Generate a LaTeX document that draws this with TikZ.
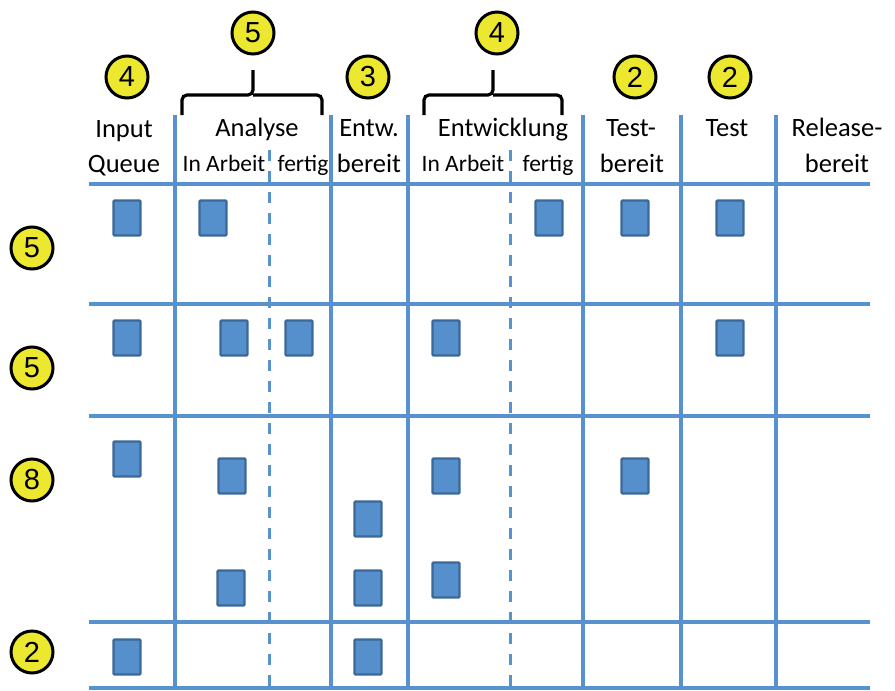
\documentclass[tikz,border=0pt]{standalone}
\usepackage{fontspec}
\setmainfont{Carlito}
\newfontfamily\digitfont{Liberation Sans}

\definecolor{gridblue}{RGB}{88,146,206}
\definecolor{cardfill}{RGB}{85,143,204}
\definecolor{carddraw}{RGB}{60,104,152}
\definecolor{wipyellow}{RGB}{236,232,48}

\begin{document}
\begin{tikzpicture}[x=1pt,y=-1pt,
    grid/.style={gridblue, line width=3.8pt},
    subgrid/.style={gridblue, line width=3pt, dash pattern=on 11pt off 10pt},
    card/.style={draw=carddraw, fill=cardfill, line width=2.4pt, rounded corners=1pt,
                 minimum width=27pt, minimum height=35pt, inner sep=0pt},
    wip/.style={circle, draw=black, line width=3pt, fill=wipyellow, minimum size=42pt,
                inner sep=0pt, font=\digitfont\fontsize{29}{29}\selectfont},
    head/.style={anchor=base, font=\fontsize{26.5}{30}\selectfont},
    subhead/.style={anchor=base, font=\fontsize{23.5}{27}\selectfont},
    bracket/.style={line width=3.2pt, rounded corners=5pt}]
    \useasboundingbox (0,0) rectangle (895,691);

    % Rows
    \foreach \y in {184,304,416,622,688}
        \draw[grid] (89,\y) -- (870,\y);

    % Columns
    \foreach \x in {175,331,408,583,681,776}
        \draw[grid] (\x,115) -- (\x,689);
    \foreach \x in {269,510}
        \draw[subgrid] (\x,150) -- (\x,689);

    % Column heads
    \node[head] (inq1) at (124,137) {Input};
    \node[head] (inq2) at (124,172) {Queue};
    \node[head] (ana) at (257,136) {Analyse};
    \node[subhead] (anaa) at (224,171) {In Arbeit};
    \node[subhead] (anaf) at (303,171) {fertig};
    \node[head] (eb1) at (369,136) {Entw.};
    \node[head] (eb2) at (369,172) {bereit};
    \node[head] (ent) at (503,136) {Entwicklung};
    \node[subhead] (enta) at (463,171) {In Arbeit};
    \node[subhead] (entf) at (548,171) {fertig};
    \node[head] (tb1) at (631,136) {Test-};
    \node[head] (tb2) at (632,172) {bereit};
    \node[head] (tst) at (727,136) {Test};
    \node[head] (rb1) at (837,136) {Release-};
    \node[head] (rb2) at (837,172) {bereit};

    % Brackets over split columns
    \draw[bracket] (182,115) |- (253,95) -- (253,70);
    \draw[bracket] (322,115) |- (253,95);
    \draw[bracket] (424,115) |- (493,95) -- (493,70);
    \draw[bracket] (562,115) |- (493,95);

    % WIP limits, columns
    \node[wip] (wq) at (127,77) {4};
    \node[wip] (wa) at (253,33) {5};
    \node[wip] (we) at (368,77) {3};
    \node[wip] (wd) at (497,33) {4};
    \node[wip] (wt) at (635,77) {2};
    \node[wip] (ws) at (730,77) {2};

    % WIP limits, rows
    \node[wip] (r1) at (32,248) {5};
    \node[wip] (r2) at (32,368) {5};
    \node[wip] (r3) at (32,480) {8};
    \node[wip] (r4) at (32,652) {2};

    % Cards
    \foreach \x/\y [count=\i] in {127/218, 213/218, 549/218, 635/218, 730/218,
                                  127/338, 234/338, 299/338, 446/338, 730/338,
                                  127/459, 232/476, 446/476, 635/476, 368/519,
                                  231/588, 368/588, 446/580,
                                  127/657, 368/657}
        \node[card] (c\i) at (\x,\y) {};
\end{tikzpicture}
\end{document}
